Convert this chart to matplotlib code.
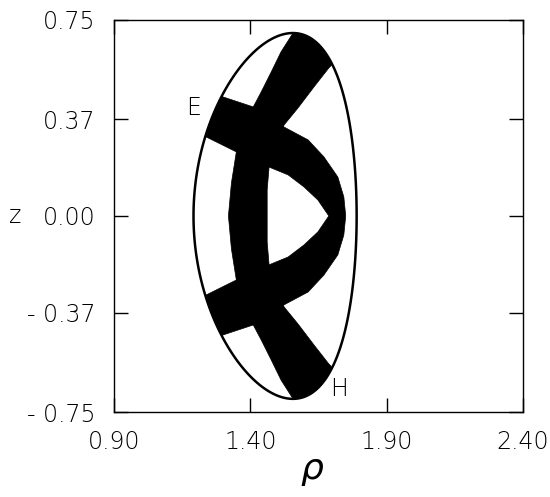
import numpy as np
import matplotlib.pyplot as plt
from matplotlib.patches import Polygon

# boundary shape (rho, z)
R0, a_minor, kappa, delta = 1.491, 0.299, 2.34, -0.22

# band E (">" shaped): outer edge top->bottom, inner edge bottom->top
band_e_rho = [1.148, 1.301, 1.411, 1.524, 1.612, 1.670, 1.721, 1.743, 1.750,
              1.743, 1.721, 1.670, 1.612, 1.524, 1.411, 1.301, 1.148,
              1.130, 1.239, 1.349, 1.469, 1.539, 1.597, 1.648, 1.688,
              1.648, 1.597, 1.539, 1.469, 1.349, 1.239, 1.130]
band_e_z = [0.520, 0.455, 0.417, 0.340, 0.291, 0.226, 0.149, 0.073, 0.0,
            -0.073, -0.149, -0.226, -0.291, -0.340, -0.417, -0.455, -0.520,
            -0.360, -0.302, -0.245, -0.187, -0.157, -0.111, -0.061, 0.0,
            0.061, 0.111, 0.157, 0.187, 0.245, 0.302, 0.360]

# band H ("(" shaped): left edge top->bottom, right edge bottom->top
band_h_rho = [1.586, 1.557, 1.513, 1.477, 1.440, 1.411, 1.349, 1.331, 1.320,
              1.331, 1.349, 1.411, 1.440, 1.477, 1.513, 1.557, 1.586,
              1.769, 1.688, 1.634, 1.575, 1.524, 1.469, 1.462, 1.462,
              1.462, 1.469, 1.524, 1.575, 1.634, 1.688, 1.769]
band_h_z = [0.77, 0.700, 0.628, 0.551, 0.474, 0.417, 0.245, 0.126, 0.0,
            -0.126, -0.245, -0.417, -0.474, -0.551, -0.628, -0.700, -0.77,
            -0.654, -0.566, -0.494, -0.413, -0.348, -0.187, -0.099, 0.0,
            0.099, 0.187, 0.348, 0.413, 0.494, 0.566, 0.654]

x_ticks = [0.90, 1.40, 1.90, 2.40]
x_labels = ['0.90', '1.40', '1.90', '2.40']
y_ticks = [0.75, 0.37, 0.0, -0.37, -0.75]
y_labels = ['0.75', '0.37', '0.00', '- 0.37', '- 0.75']

fig = plt.figure(figsize=(5.5, 4.97), dpi=100)
ax = fig.add_axes([0.207, 0.171, 0.744, 0.789])

theta = np.linspace(0, 2 * np.pi, 500)
bnd_rho = R0 + a_minor * np.cos(theta + delta * np.sin(theta))
bnd_z = kappa * a_minor * np.sin(theta)

clip = Polygon(np.column_stack([bnd_rho, bnd_z]), closed=True, fill=False,
               edgecolor='black', linewidth=1.8, zorder=3)
ax.add_patch(clip)

for rr, zz in [(band_e_rho, band_e_z), (band_h_rho, band_h_z)]:
    p = Polygon(np.column_stack([rr, zz]), closed=True, facecolor='black',
                edgecolor='black', linewidth=0.5, joinstyle='round', zorder=2)
    ax.add_patch(p)
    p.set_clip_path(clip)

lab = dict(fontsize=17, fontweight='light')
ax.text(1.192, 0.413, 'E', ha='center', va='center', **lab)
ax.text(1.725, -0.662, 'H', ha='center', va='center', **lab)

ax.set_xlim(0.90, 2.40)
ax.set_ylim(-0.75, 0.75)
ax.set_xticks(x_ticks)
ax.set_xticklabels(x_labels, **lab)
ax.set_yticks(y_ticks)
ax.set_yticklabels(y_labels, **lab)
ax.tick_params(direction='in', length=10, width=1.0, top=True, right=True,
               colors='black')
ax.tick_params(axis='y', pad=13)
ax.tick_params(axis='x', pad=13)
for s in ax.spines.values():
    s.set_linewidth(1.0)

ax.set_ylabel('z', rotation=0, va='center', ha='center', **lab)
ax.yaxis.set_label_coords(-0.242, 0.5)
ax.set_xlabel('ρ', fontsize=26, fontstyle='italic', va='center')
ax.xaxis.set_label_coords(0.484, -0.145)

fig.savefig('out.png', dpi=100)
